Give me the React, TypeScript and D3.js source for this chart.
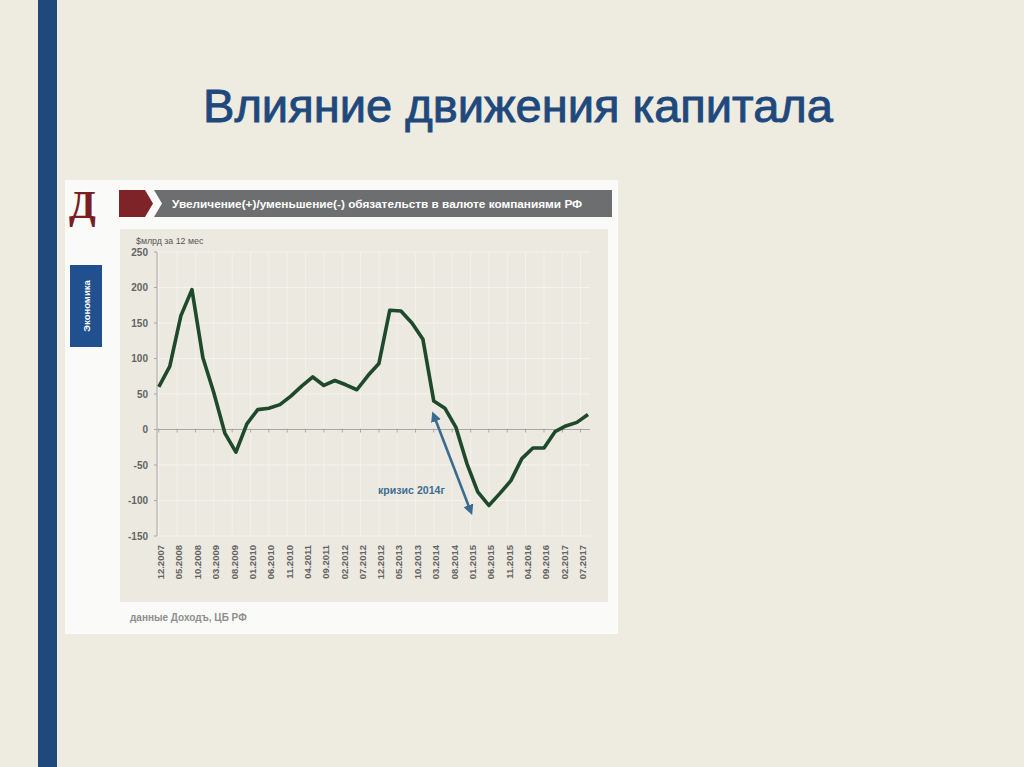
import { useMemo } from "react";
import * as d3 from "d3";

// quarterly observations, $ bn over 12 months
const QUARTERS = [
  "12.2007", "03.2008", "06.2008", "09.2008", "12.2008", "03.2009", "06.2009", "09.2009",
  "12.2009", "03.2010", "06.2010", "09.2010", "12.2010", "03.2011", "06.2011", "09.2011",
  "12.2011", "03.2012", "06.2012", "09.2012", "12.2012", "03.2013", "06.2013", "09.2013",
  "12.2013", "03.2014", "06.2014", "09.2014", "12.2014", "03.2015", "06.2015", "09.2015",
  "12.2015", "03.2016", "06.2016", "09.2016", "12.2016", "03.2017", "06.2017", "09.2017",
];
const VALUES = [
  60, 89, 160, 197, 101, 52, -5, -32,
  8, 28, 30, 35, 47, 61, 74, 62,
  69, 63, 56, 76, 93, 168, 167, 150,
  127, 40, 30, 3, -48, -88, -107, -90,
  -72, -41, -26, -26, -3, 5, 10, 21,
];
const TICK_LABELS = [
  "12.2007", "05.2008", "10.2008", "03.2009", "08.2009", "01.2010", "06.2010", "11.2010",
  "04.2011", "09.2011", "02.2012", "07.2012", "12.2012", "05.2013", "10.2013", "03.2014",
  "08.2014", "01.2015", "06.2015", "11.2015", "04.2016", "09.2016", "02.2017", "07.2017",
];
const Y_TICKS = [-150, -100, -50, 0, 50, 100, 150, 200, 250];
const ARROW_FROM = { date: "03.2014", value: 20 };
const ARROW_TO = { date: "01.2015", value: -115 };

const parse = d3.timeParse("%m.%Y");

export default function App() {
  const x = useMemo(
    () => d3.scaleTime().domain([parse("12.2007")!, parse("09.2017")!]).range([158.8, 588]),
    []
  );
  const y = useMemo(() => d3.scaleLinear().domain([-150, 250]).range([536, 252]), []);

  const pts = QUARTERS.map((q, i) => ({ d: parse(q)!, v: VALUES[i] }));
  const line = d3
    .line<{ d: Date; v: number }>()
    .x((p) => x(p.d))
    .y((p) => y(p.v));

  const axL = 157;
  const axR = 590;
  const tickDates = TICK_LABELS.map((t) => parse(t)!);

  const ax1 = x(parse(ARROW_FROM.date)!);
  const ay1 = y(ARROW_FROM.value);
  const ax2 = x(parse(ARROW_TO.date)!);
  const ay2 = y(ARROW_TO.value);

  return (
    <div style={{ position: "absolute", left: 0, top: 0 }}>
      <svg width={1024} height={767} style={{ display: "block" }}>
        <defs>
          <marker id="ah" viewBox="0 0 10 10" refX="6" refY="5" markerWidth="4" markerHeight="4" orient="auto-start-reverse">
            <path d="M0,0 L10,5 L0,10 z" fill="#3b6b91" />
          </marker>
        </defs>
        {/* slide */}
        <rect width={1024} height={767} fill="#eeebe0" />
        <rect x={38} y={0} width={19} height={767} fill="#1f497d" />
        <text
          x={203}
          y={122}
          textLength={630}
          lengthAdjust="spacingAndGlyphs"
          fontFamily="'Liberation Sans Narrow', 'Liberation Sans', Arial, sans-serif"
          fontSize={47}
          fill="#1f497d"
          stroke="#1f497d"
          strokeWidth={0.9}
        >
          Влияние движения капитала
        </text>

        {/* chart picture */}
        <rect x={65} y={180} width={553} height={454} fill="#fafaf8" />
        <text x={69} y={218} fontFamily="'Liberation Serif', 'DejaVu Serif', serif" fontWeight="bold" fontSize={39} fill="#7b1e22">
          Д
        </text>
        <polygon points="119,190 145,190 153,203.5 145,217 119,217" fill="#7e2327" />
        <polygon points="154,190 612,190 612,217 154,217 162,203.5" fill="#6d6e70" />
        <text x={172} y={208} fontFamily="'Liberation Sans', Arial, sans-serif" fontWeight="bold" fontSize={11.8} fill="#ffffff">
          Увеличение(+)/уменьшение(-) обязательств в валюте компаниями РФ
        </text>

        <rect x={70} y={265} width={32} height={82} fill="#21508f" />
        <text
          transform="translate(89.5,306) rotate(-90)"
          textAnchor="middle"
          fontFamily="'Liberation Sans', Arial, sans-serif"
          fontWeight="bold"
          fontSize={9.5}
          fill="#ffffff"
        >
          Экономика
        </text>

        {/* plot panel */}
        <rect x={120} y={229} width={488} height={373} fill="#ebe9e0" />
        {/* faint grid */}
        {Y_TICKS.map((t) => (
          <line key={"gy" + t} x1={axL} x2={axR} y1={y(t)} y2={y(t)} stroke="#f4f3ee" strokeWidth={1} />
        ))}
        {tickDates.map((d, i) => (
          <line key={"gx" + i} x1={x(d)} x2={x(d)} y1={y(250)} y2={y(-150)} stroke="#f2f1ec" strokeWidth={1} />
        ))}

        <text x={136} y={244} fontFamily="'Liberation Sans', Arial, sans-serif" fontSize={8.8} fill="#555">
          $млрд  за 12 мес
        </text>

        {/* y axis */}
        <line x1={axL} x2={axL} y1={y(250)} y2={y(-150)} stroke="#a8a8a8" strokeWidth={1} />
        {Y_TICKS.map((t) => (
          <g key={"yt" + t}>
            <line x1={axL - 3} x2={axL} y1={y(t)} y2={y(t)} stroke="#a8a8a8" />
            <text
              x={148}
              y={y(t)}
              dy="0.35em"
              textAnchor="end"
              fontFamily="'Liberation Sans', Arial, sans-serif"
              fontWeight="bold"
              fontSize={10}
              fill="#646464"
            >
              {t}
            </text>
          </g>
        ))}

        {/* zero line with ticks */}
        <line x1={axL} x2={axR} y1={y(0)} y2={y(0)} stroke="#a8a8a8" strokeWidth={1} />
        {tickDates.map((d, i) => (
          <line key={"xt" + i} x1={x(d)} x2={x(d)} y1={y(0) - 1} y2={y(0) + 3} stroke="#a8a8a8" />
        ))}

        {/* x labels */}
        {tickDates.map((d, i) => (
          <text
            key={"xl" + i}
            transform={`translate(${x(d) + 2},545) rotate(-90)`}
            dy="0.35em"
            textAnchor="end"
            fontFamily="'Liberation Sans', Arial, sans-serif"
            fontWeight="bold"
            fontSize={9.5}
            fill="#646464"
          >
            {TICK_LABELS[i]}
          </text>
        ))}

        {/* series */}
        <path d={line(pts) ?? ""} fill="none" stroke="#1e4a2b" strokeWidth={3.6} strokeLinejoin="round" />

        {/* crisis annotation */}
        <line x1={ax1} y1={ay1} x2={ax2} y2={ay2} stroke="#3b6b91" strokeWidth={2.6} markerStart="url(#ah)" markerEnd="url(#ah)" />
        <text x={378} y={494} fontFamily="'Liberation Sans', Arial, sans-serif" fontWeight="bold" fontSize={10.6} fill="#3e6d93">
          кризис  2014г
        </text>

        <text x={130} y={621} fontFamily="'Liberation Sans', Arial, sans-serif" fontWeight="bold" fontSize={10} fill="#8e8e8e">
          данные Доходъ,  ЦБ РФ
        </text>
      </svg>
    </div>
  );
}
